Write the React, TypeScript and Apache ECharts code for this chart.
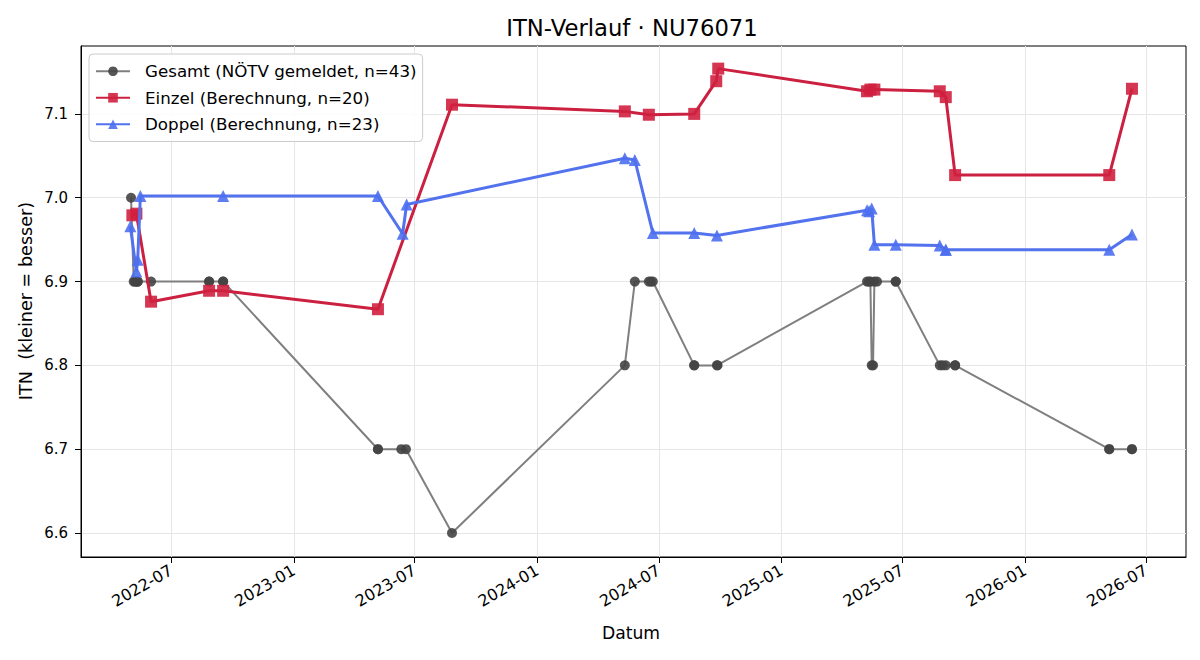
import React, { useEffect, useRef } from "react";
import * as echarts from "echarts";

// ITN history per date (ISO date strings)
const gesamtDates = [
  "2022-05-02", "2022-05-06", "2022-05-08", "2022-05-10", "2022-05-12", "2022-05-12",
  "2022-06-01", "2022-08-27", "2022-08-27", "2022-09-17", "2022-09-17",
  "2023-05-07", "2023-05-07", "2023-06-11", "2023-06-18", "2023-08-26",
  "2024-05-11", "2024-05-26", "2024-06-16", "2024-06-19", "2024-06-22",
  "2024-08-23", "2024-08-23", "2024-09-26", "2024-09-27",
  "2025-05-09", "2025-05-12", "2025-05-14", "2025-05-16", "2025-05-18", "2025-05-20",
  "2025-05-24", "2025-06-21", "2025-06-21",
  "2025-08-26", "2025-08-30", "2025-09-04", "2025-09-18", "2025-09-18",
  "2026-05-07", "2026-05-07", "2026-06-10", "2026-06-10",
];
const gesamtValues = [
  7.0, 6.9, 6.9, 6.9, 6.9, 6.9,
  6.9, 6.9, 6.9, 6.9, 6.9,
  6.7, 6.7, 6.7, 6.7, 6.6,
  6.8, 6.9, 6.9, 6.9, 6.9,
  6.8, 6.8, 6.8, 6.8,
  6.9, 6.9, 6.9, 6.8, 6.8, 6.9,
  6.9, 6.9, 6.9,
  6.8, 6.8, 6.8, 6.8, 6.8,
  6.7, 6.7, 6.7, 6.7,
];

const einzelDates = [
  "2022-05-04", "2022-05-10", "2022-06-01", "2022-08-27", "2022-09-17",
  "2023-05-07", "2023-08-26", "2024-05-11", "2024-06-16", "2024-08-23",
  "2024-09-25", "2024-09-28", "2025-05-09", "2025-05-14", "2025-05-20",
  "2025-08-26", "2025-09-04", "2025-09-18", "2026-05-07", "2026-06-10",
];
const einzelValues = [
  6.979, 6.981, 6.876, 6.889, 6.889,
  6.867, 7.111, 7.103, 7.099, 7.100,
  7.139, 7.154, 7.127, 7.129, 7.129,
  7.127, 7.120, 7.027, 7.027, 7.130,
];

const doppelDates = [
  "2022-05-01", "2022-05-10", "2022-05-12", "2022-05-16", "2022-09-17",
  "2023-05-07", "2023-06-13", "2023-06-19", "2024-05-11", "2024-05-26",
  "2024-06-22", "2024-08-23", "2024-09-26", "2025-05-09", "2025-05-12",
  "2025-05-16", "2025-05-20", "2025-06-21", "2025-08-26", "2025-09-04",
  "2025-09-04", "2026-05-07", "2026-06-10",
];
const doppelValues = [
  6.966, 6.912, 6.926, 7.002, 7.002,
  7.002, 6.957, 6.992, 7.047, 7.045,
  6.958, 6.958, 6.955, 6.985, 6.984,
  6.987, 6.944, 6.944, 6.943, 6.938,
  6.938, 6.938, 6.956,
];

const xTickLabels = [
  "2022-07", "2023-01", "2023-07", "2024-01", "2024-07",
  "2025-01", "2025-07", "2026-01", "2026-07",
];
const yTicks = [6.6, 6.7, 6.8, 6.9, 7.0, 7.1];

const FONT = "DejaVu Sans";

const ts = (d: string) => {
  const [y, m, day] = d.split("-").map(Number);
  return Date.UTC(y, m - 1, day || 1);
};
const pairs = (dates: string[], vals: number[]) =>
  dates.map((d, i) => [ts(d), vals[i]]);

export default function App() {
  const ref = useRef<HTMLDivElement>(null);

  useEffect(() => {
    if (!ref.current) return;
    const chart = echarts.init(ref.current, null, { renderer: "svg" });
    const xTickValues = xTickLabels.map((s) => ts(s + "-01"));

    chart.setOption({
      animation: false,
      backgroundColor: "#ffffff",
      textStyle: { fontFamily: FONT },
      grid: {
        left: 81,
        right: 14,
        top: 46,
        bottom: 103,
        show: true,
        borderColor: "#000",
        borderWidth: 1,
        containLabel: false,
      },
      graphic: [
        {
          type: "text",
          x: 632,
          y: 28,
          style: {
            text: "ITN-Verlauf · NU76071",
            font: `22.7px "${FONT}"`,
            fill: "#000",
            align: "center",
            verticalAlign: "middle",
          },
        },
        {
          type: "text",
          x: 631,
          y: 633,
          style: {
            text: "Datum",
            font: `17.2px "${FONT}"`,
            fill: "#000",
            align: "center",
            verticalAlign: "middle",
          },
        },
        {
          type: "text",
          x: 26,
          y: 301,
          rotation: Math.PI / 2,
          style: {
            text: "ITN  (kleiner = besser)",
            font: `17.6px "${FONT}"`,
            fill: "#000",
            align: "center",
            verticalAlign: "middle",
          },
        },
      ],
      legend: {
        orient: "vertical",
        left: 89,
        top: 54,
        padding: [8, 6, 8, 6],
        itemWidth: 34,
        itemHeight: 12,
        itemGap: 8,
        backgroundColor: "rgba(255,255,255,0.85)",
        borderColor: "#cccccc",
        borderWidth: 1,
        borderRadius: 4,
        textStyle: {
          fontFamily: FONT,
          fontSize: 16.7,
          lineHeight: 18.5,
          color: "#000",
          padding: [0, 0, 0, 10],
        },
        data: [
          "Gesamt (NÖTV gemeldet, n=43)",
          "Einzel (Berechnung, n=20)",
          "Doppel (Berechnung, n=23)",
        ],
      },
      xAxis: {
        type: "value",
        min: ts("2022-02-16"),
        max: ts("2026-08-30"),
        axisLine: { show: true, lineStyle: { color: "#000", width: 1 } },
        axisTick: {
          show: true,
          length: 6,
          lineStyle: { color: "#000" },
          customValues: xTickValues,
        },
        axisLabel: {
          customValues: xTickValues,
          rotate: 30,
          margin: 12,
          fontFamily: FONT,
          fontSize: 16,
          color: "#000",
          formatter: (v: number) => {
            const d = new Date(v);
            return `${d.getUTCFullYear()}-${String(d.getUTCMonth() + 1).padStart(2, "0")}`;
          },
        },
        splitLine: { show: true, lineStyle: { color: "#e6e6e6", width: 1 } },
      },
      yAxis: {
        type: "value",
        min: 6.5714,
        max: 7.181,
        axisLine: { show: true, lineStyle: { color: "#000", width: 1 } },
        axisTick: {
          show: true,
          length: 6,
          lineStyle: { color: "#000" },
          customValues: yTicks,
        },
        axisLabel: {
          customValues: yTicks,
          margin: 13,
          fontFamily: FONT,
          fontSize: 15,
          color: "#000",
          formatter: (v: number) => v.toFixed(1),
        },
        splitLine: { show: true, lineStyle: { color: "#e6e6e6", width: 1 } },
      },
      series: [
        {
          name: "Gesamt (NÖTV gemeldet, n=43)",
          type: "line",
          data: pairs(gesamtDates, gesamtValues),
          symbol: "circle",
          symbolSize: 10,
          showAllSymbol: true,
          lineStyle: { color: "#7f7f7f", width: 2 },
          itemStyle: { color: "#444444", opacity: 0.9 },
          z: 2,
        },
        {
          name: "Einzel (Berechnung, n=20)",
          type: "line",
          data: pairs(einzelDates, einzelValues),
          symbol: "rect",
          symbolSize: 12,
          showAllSymbol: true,
          lineStyle: { color: "#cc2040", width: 3 },
          itemStyle: { color: "#d0203f", opacity: 0.9 },
          z: 3,
        },
        {
          name: "Doppel (Berechnung, n=23)",
          type: "line",
          data: pairs(doppelDates, doppelValues),
          symbol: "triangle",
          symbolSize: 12,
          showAllSymbol: true,
          lineStyle: { color: "#5272ee", width: 3 },
          itemStyle: { color: "#4d6ff0", opacity: 0.9 },
          z: 4,
        },
      ],
    });

    return () => chart.dispose();
  }, []);

  return (
    <div
      ref={ref}
      style={{ position: "fixed", left: 0, top: 0, width: 1200, height: 660 }}
    />
  );
}
